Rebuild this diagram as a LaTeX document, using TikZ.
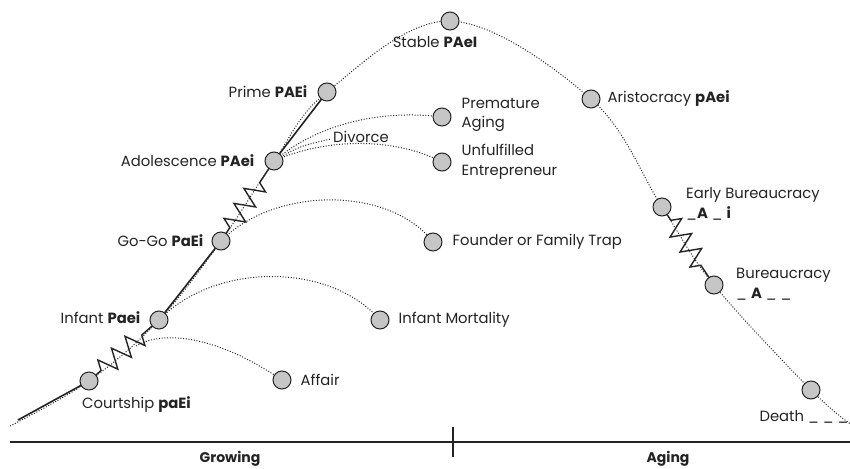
\documentclass[tikz,border=0pt]{standalone}
\usepackage{fontspec}
\setmainfont{Poppins}
\usetikzlibrary{positioning, backgrounds, decorations.pathmorphing}
\definecolor{stagegray}{RGB}{198,198,198}
\definecolor{inkgray}{RGB}{35,35,35}

\begin{document}
\begin{tikzpicture}[
    x=1pt, y=-1pt,
    stage/.style={circle, draw=inkgray, fill=stagegray, line width=1pt, minimum size=18pt, inner sep=0pt},
    tag/.style={font=\fontsize{14.8}{19.5}\selectfont, text=inkgray, inner sep=1pt, align=left},
    phase/.style={font=\fontsize{14}{16}\selectfont\bfseries, text=inkgray, inner sep=1pt},
    life/.style={dash pattern=on 1pt off 1.7pt, line width=1pt, inkgray},
    branch/.style={dash pattern=on 1pt off 1.7pt, line width=1pt, inkgray},
    solidpart/.style={line width=1.6pt, inkgray},
    spring/.style={line width=1.4pt, inkgray, decorate, decoration={zigzag, segment length=18pt, amplitude=10pt, pre length=16pt, post length=20pt}},
    axis/.style={line width=1.1pt, inkgray}
]
\useasboundingbox (0,0) rectangle (850,468);

% Stages on the life curve
\node[stage] (courtship) at (89,381) {};
\node[stage] (infant) at (159,320) {};
\node[stage] (gogo) at (221,241) {};
\node[stage] (adolescence) at (274,161) {};
\node[stage] (prime) at (327,92) {};
\node[stage] (stable) at (450,21) {};
\node[stage] (aristocracy) at (591,99) {};
\node[stage] (earlybureau) at (662,207) {};
\node[stage] (bureaucracy) at (714,285) {};
\node[stage] (death) at (811,390) {};

% Failure stages
\node[stage] (affair) at (282,380) {};
\node[stage] (mortality) at (380,320) {};
\node[stage] (founder) at (433,242) {};
\node[stage] (premature) at (442,117) {};
\node[stage] (unfulfilled) at (442,162) {};

% Free ends
\coordinate (lifestart) at (10,426);
\coordinate (growstart) at (18,420);
\coordinate (lifeend) at (852,425);
\coordinate (affairfork) at (136,346);
\coordinate (divorceend) at (331,139);

% Stage labels
\node[tag, anchor=west] (courtshiptag) at (81,405) {Courtship \textbf{paEi}};
\node[tag, left=8pt of infant, yshift=2pt] (infanttag) {Infant \textbf{Paei}};
\node[tag, left=7pt of gogo] (gogotag) {Go-Go \textbf{PaEi}};
\node[tag, left=9pt of adolescence] (adolescencetag) {Adolescence \textbf{PAei}};
\node[tag, left=9pt of prime] (primetag) {Prime \textbf{PAEi}};
\node[tag, below=5pt of stable, xshift=-15pt] (stabletag) {Stable \textbf{PAeI}};
\node[tag, right=6pt of aristocracy] (aristocracytag) {Aristocracy \textbf{pAei}};
\node[tag, anchor=west] (earlybureautag) at (685,204) {Early Bureaucracy\\\_\textbf{A} \_ \textbf{i}};
\node[tag, anchor=west] (bureaucracytag) at (735,284) {Bureaucracy\\\_ \textbf{A} \_ \_};
\node[tag] (deathtag) at (804,417) {Death \_ \_ \_};

% Failure labels
\node[tag, right=8pt of affair] (affairtag) {Affair};
\node[tag, right=8pt of mortality] (mortalitytag) {Infant Mortality};
\node[tag, right=9pt of founder] (foundertag) {Founder or Family Trap};
\node[tag, right=9pt of premature, yshift=2pt] (prematuretag) {Premature\\Aging};
\node[tag, right=9pt of unfulfilled] (unfulfilledtag) {Unfulfilled\\Entrepreneur};
\node[tag, anchor=west] (divorcetag) at (332,137) {Divorce};

% Time axis
\coordinate (axisleft) at (10,442);
\coordinate (axisright) at (850,442);
\coordinate (midtop) at (453,427);
\coordinate (midbottom) at (453,457);
\draw[axis] (axisleft) -- (axisright);
\draw[axis] (midtop) -- (midbottom);
\node[phase] (growing) at (230,459) {Growing};
\node[phase] (aging) at (668,459) {Aging};

\begin{scope}[on background layer]
    % Life curve
    \draw[life] plot[smooth, tension=0.6] coordinates {(lifestart) (courtship.center) (infant.center) (gogo.center) (adolescence.center) (prime.center) (stable.center) (aristocracy.center) (earlybureau.center) (bureaucracy.center) (death.center) (lifeend)};

    % Solid and troubled parts
    \draw[solidpart] (growstart) -- (courtship.center);
    \draw[spring] (courtship.center) -- (infant.center);
    \draw[solidpart] (infant.center) -- (gogo.center);
    \draw[spring] (gogo.center) -- (adolescence.center);
    \draw[solidpart] (adolescence.center) -- (prime.center);
    \draw[spring] (earlybureau.center) -- (bureaucracy.center);

    % Branches
    \draw[branch] (affairfork) .. controls (155,334) and (205,328) .. (affair.center);
    \draw[branch] (infant.center) .. controls (215,262) and (330,262) .. (mortality.center);
    \draw[branch] (gogo.center) .. controls (275,186) and (390,186) .. (founder.center);
    \draw[branch] (adolescence.center) .. controls (310,130) and (370,108) .. (premature.center);
    \draw[branch] (adolescence.center) .. controls (320,140) and (390,135) .. (unfulfilled.center);
    \draw[branch] (adolescence.center) .. controls (300,146) .. (divorceend);
\end{scope}

\end{tikzpicture}
\end{document}
